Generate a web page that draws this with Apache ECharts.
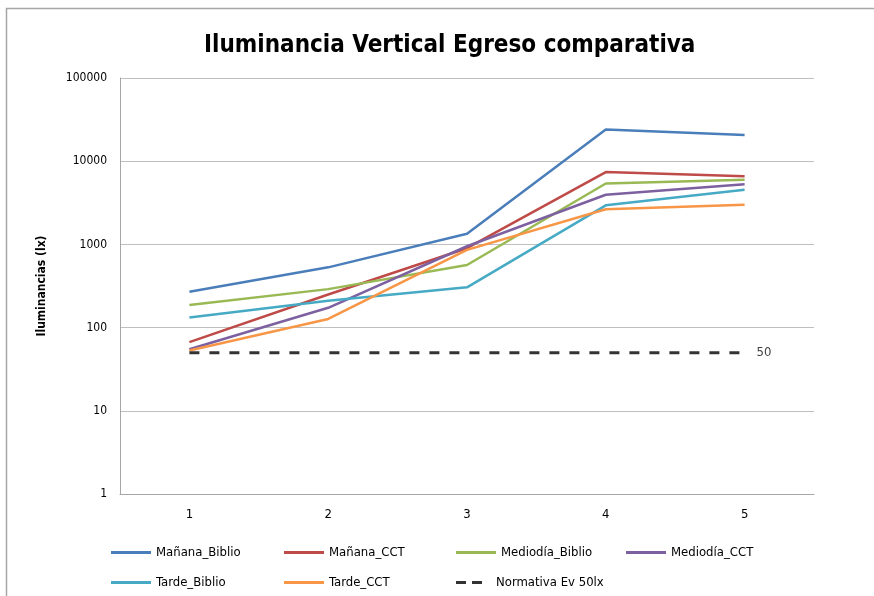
<!DOCTYPE html>
<html>
<head>
<meta charset="utf-8">
<script src="https://cdn.jsdelivr.net/npm/echarts@6/dist/echarts.min.js"></script>
<style>
  html, body { margin: 0; padding: 0; background: #fff; }
  #chart { width: 874px; height: 596px; }
</style>
</head>
<body>
<div id="chart"></div>
<script>
var categories = ['1', '2', '3', '4', '5']
var seriesNames = ['Mañana_Biblio', 'Mañana_CCT', 'Mediodía_Biblio', 'Mediodía_CCT', 'Tarde_Biblio', 'Tarde_CCT', 'Normativa Ev 50lx']
var mananaBiblio = [270, 530, 1340, 24000, 20700]
var mananaCCT = [67, 250, 900, 7400, 6600]
var mediodiaBiblio = [187, 290, 565, 5400, 6000]
var mediodiaCCT = [55, 173, 950, 3950, 5300]
var tardeBiblio = [132, 210, 305, 2950, 4550]
var tardeCCT = [53, 127, 860, 2650, 3000]
var normativa = [50, 50, 50, 50, 50]

var font = '"DejaVu Sans Condensed", "Noto Sans", sans-serif'
var colors = ['#4a7ebb', '#be4b48', '#98b954', '#7d60a0', '#46aac5', '#f79646', '#333333']

function lineSeries(i, data) {
  return {
    name: seriesNames[i],
    type: 'line',
    data: data,
    symbol: 'none',
    lineStyle: { color: colors[i], width: 2.5 },
    itemStyle: { color: colors[i] }
  }
}

// one legend per item so that they sit in columns like the original
var legendPos = [[106, 541], [279, 541], [451, 541], [621, 541], [106, 571], [279, 571], [451, 571]]
var legends = []
for (var i = 0; i < seriesNames.length; i++) {
  var dashed = i == 6
  legends.push({
    left: legendPos[i][0],
    top: legendPos[i][1],
    itemWidth: dashed ? 28 : 40,
    itemHeight: 3,
    itemGap: 0,
    icon: dashed ? 'path://M0,0h10v3H0z M16,0h10v3H16z' : 'rect',
    textStyle: { fontFamily: font, fontSize: 13, color: '#000', padding: [0, 0, 0, dashed ? 8 : 0] },
    itemTextGap: 4,
    data: [seriesNames[i]]
  })
}

var myChart = echarts.init(document.getElementById('chart'))
var option = {
  backgroundColor: '#fff',
  animation: false,
  title: {
    text: 'Iluminancia Vertical Egreso comparativa',
    left: 199,
    top: 29,
    textStyle: { fontFamily: font, fontSize: 24, fontWeight: 'bold', color: '#000' }
  },
  graphic: [{
    type: 'polyline',
    shape: { points: [[6.5, 596], [6.5, 8.5], [874, 8.5]] },
    style: { stroke: '#a6a6a6', lineWidth: 1.5, fill: null }
  }],
  grid: { left: 120, right: 60, top: 78, bottom: 102 },
  legend: legends,
  xAxis: {
    type: 'category',
    data: categories,
    boundaryGap: true,
    axisLine: { lineStyle: { color: '#a6a6a6' } },
    axisTick: { show: false },
    axisLabel: { fontFamily: font, fontSize: 13, color: '#000', margin: 14 }
  },
  yAxis: {
    type: 'log',
    logBase: 10,
    min: 1,
    max: 100000,
    name: 'Iluminancias (lx)',
    nameLocation: 'middle',
    nameGap: 72,
    nameRotate: 90,
    nameTextStyle: { fontFamily: font, fontSize: 12, fontWeight: 'bold', color: '#000' },
    axisLine: { show: true, lineStyle: { color: '#a6a6a6' } },
    axisTick: { show: false },
    splitLine: { lineStyle: { color: '#bfbfbf', width: 1.2 } },
    axisLabel: {
      fontFamily: font, fontSize: 12, color: '#000', margin: 13,
      formatter: function (v) { return String(Math.round(v)) }
    }
  },
  series: [
    lineSeries(0, mananaBiblio),
    lineSeries(1, mananaCCT),
    lineSeries(2, mediodiaBiblio),
    lineSeries(3, mediodiaCCT),
    lineSeries(4, tardeBiblio),
    lineSeries(5, tardeCCT),
    {
      name: seriesNames[6],
      type: 'line',
      data: normativa,
      symbol: 'none',
      lineStyle: { color: colors[6], width: 3, type: [10, 10] },
      itemStyle: { color: colors[6] },
      endLabel: {
        show: true,
        formatter: '{c}',
        distance: 12,
        fontFamily: font,
        fontSize: 13,
        color: '#404040'
      }
    }
  ]
}
myChart.setOption(option)
</script>
</body>
</html>
